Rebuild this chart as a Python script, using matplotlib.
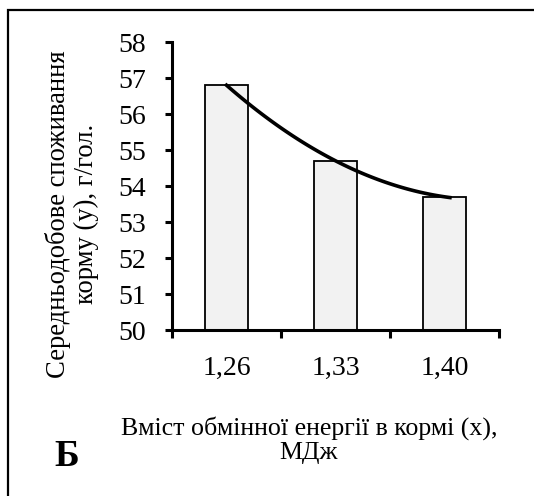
import numpy as np
import matplotlib
matplotlib.use("Agg")
import matplotlib.pyplot as plt
from matplotlib.patches import Rectangle

# --- data ---
categories = ["1,26", "1,33", "1,40"]
feed_intake = [56.8, 54.7, 53.7]
y_ticks = [50, 51, 52, 53, 54, 55, 56, 57, 58]

plt.rcParams["font.family"] = ["Liberation Serif", "DejaVu Serif"]

W, H = 534, 496
fig = plt.figure(figsize=(W / 100, H / 100), dpi=100)

# frame (only top/left edges fall inside the picture)
fig.patches.append(Rectangle((8 / W, -0.1), 1.2, 1 - 10 / H + 0.1,
                             transform=fig.transFigure, fill=False,
                             edgecolor="black", linewidth=1.6))

ax = fig.add_axes([172 / W, 1 - 330 / H, (499 - 172) / W, (330 - 42) / H])

x = np.arange(len(categories))
ax.bar(x, feed_intake, width=0.39, bottom=0, color="#f2f2f2",
       edgecolor="black", linewidth=1.3, zorder=2)

# 2nd order trend line
coef = np.polyfit(x, feed_intake, 2)
xs = np.linspace(x[0], x[-1] + 0.05, 100)
ax.plot(xs, np.polyval(coef, xs), color="black", linewidth=2.6, zorder=3)

ax.set_xlim(-0.5, len(categories) - 0.5)
ax.set_ylim(50, 58)
ax.set_yticks(y_ticks)
ax.set_yticklabels([str(v) for v in y_ticks], fontsize=20)

# ticks at category boundaries, labels at centres
ax.set_xticks(np.arange(len(categories) + 1) - 0.5)
ax.set_xticklabels([])
ax.set_xticks(x, minor=True)
ax.set_xticklabels(categories, minor=True, fontsize=20)
ax.tick_params(axis="x", which="minor", length=0, pad=19)
ax.tick_params(axis="x", which="major", length=6, width=2.2, direction="out")
ax.tick_params(axis="y", length=5, width=2.2, direction="out", pad=14)

for s in ["top", "right"]:
    ax.spines[s].set_visible(False)
for s in ["left", "bottom"]:
    ax.spines[s].set_linewidth(2.2)

fig.text(72 / W, 1 - 214 / H, "Середньодобове споживання\nкорму (у), г/гол.",
         rotation=90, ha="center", va="center", multialignment="center",
         fontsize=19.2, linespacing=1.15)
fig.text(309 / W, 1 - 440 / H, "Вміст обмінної енергії в кормі (x),\nМДж",
         ha="center", va="center", multialignment="center",
         fontsize=18.6, linespacing=1.15)
fig.text(67 / W, 1 - 456 / H, "Б", ha="center", va="center",
         fontsize=27, fontweight="bold")

fig.savefig("out.png", dpi=100)
